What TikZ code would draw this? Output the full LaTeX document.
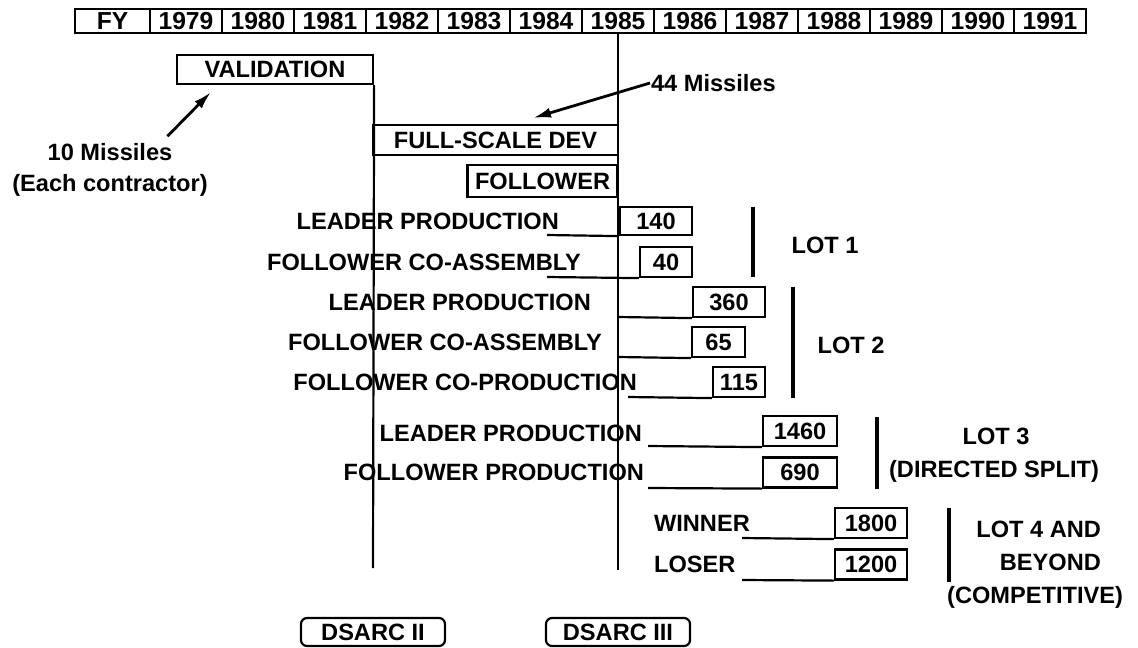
\documentclass[tikz,border=0pt]{standalone}
\usepackage{fontspec}
\setmainfont{Liberation Sans}
\usetikzlibrary{positioning,arrows.meta}

\begin{document}
\begin{tikzpicture}[x=0.5pt, y=-0.5pt, line width=1.1pt,
  font=\fontsize{11.8}{13}\selectfont\bfseries,
  yearcell/.style={draw, minimum width=36pt, minimum height=12pt, inner sep=0pt,
                   font=\fontsize{12.3}{13}\selectfont\bfseries},
  phase/.style={draw, minimum height=14.5pt, inner sep=0pt},
  qty/.style={draw, minimum height=15pt, inner sep=0pt},
  lbl/.style={anchor=east, inner sep=0pt},
  lotbar/.style={line width=1.7pt},
  review/.style={draw, rounded corners=3pt, minimum width=72pt, minimum height=14pt, inner sep=0pt},
  arr/.style={-{Latex[length=9pt,width=5pt]}, line width=1.4pt}
]
\useasboundingbox (0,0) rectangle (1138,647);

% fiscal year header
\node[yearcell, minimum width=37.5pt] (fy) at (112.5,21) {FY};
\foreach \yr [count=\i from 0] in {1979,...,1991}
  \node[yearcell] (y\yr) at (186+72*\i,21) {\yr};

% development phases
\node[phase, minimum width=98pt] (val) at (275,69.5) {VALIDATION};
\node[phase, minimum width=122.5pt, minimum height=15pt] (fsd) at (495.5,140) {FULL-SCALE DEV};
\node[phase, minimum width=75pt, minimum height=16pt] (fol) at (542.5,181) {FOLLOWER};

% milestones
\coordinate (d2end) at (373,568);
\coordinate (d3end) at (618,570);
\draw (val.south east) -- (d2end);
\draw (y1985.south) -- (d3end);
\node[review] (dsarc2) at (373,632) {DSARC II};
\node[review] (dsarc3) at (618,632) {DSARC III};

% missile notes
\node[anchor=west, inner sep=0pt] (m44) at (650,83) {44 Missiles};
\coordinate (m44tip) at (533,118);
\draw[arr] (m44.west) -- (m44tip);
\node[inner sep=0pt] (m10) at (110,152) {10 Missiles};
\node[inner sep=0pt] (each) at (110,185) {(Each contractor)};
\coordinate (m10tip) at (211,92);
\draw[arr] ([xshift=-3pt,yshift=3pt]m10.north east) -- (m10tip);

% lot 1
\node[lbl] (l1lead) at (560,221) {LEADER PRODUCTION};
\node[lbl] (l1fol) at (582,262) {FOLLOWER CO-ASSEMBLY};
\node[qty, minimum width=36pt, minimum height=14pt] (q140) at (656,221) {140};
\node[qty, minimum width=26pt] (q40) at (666,262) {40};
\coordinate (s140) at (547,235);
\coordinate (s40) at (547,277);
\draw (s140) -- (q140.south west);
\draw (s40) -- (q40.south west);
\coordinate (b1top) at (753,207);
\coordinate (b1bot) at (753,277);
\draw[lotbar] (b1top) -- (b1bot);
\node (lot1) at (825,245) {LOT 1};

% lot 2
\node[lbl] (l2lead) at (592,302) {LEADER PRODUCTION};
\node[lbl] (l2asm) at (603,342) {FOLLOWER CO-ASSEMBLY};
\node[lbl] (l2prod) at (638,382) {FOLLOWER CO-PRODUCTION};
\node[qty, minimum width=36pt] (q360) at (729,302) {360};
\node[qty, minimum width=26.5pt] (q65) at (718.5,342) {65};
\node[qty, minimum width=26pt] (q115) at (739,382) {115};
\coordinate (s360) at (618,317);
\coordinate (s65) at (618,357);
\coordinate (s115) at (628,397);
\draw (s360) -- (q360.south west);
\draw (s65) -- (q65.south west);
\draw (s115) -- (q115.south west);
\coordinate (b2top) at (793,287);
\coordinate (b2bot) at (793,398);
\draw[lotbar] (b2top) -- (b2bot);
\node (lot2) at (851,345) {LOT 2};

% lot 3
\node[lbl] (l3lead) at (643,433) {LEADER PRODUCTION};
\node[lbl] (l3fol) at (645,472) {FOLLOWER PRODUCTION};
\node[qty, minimum width=37pt] (q1460) at (800,431) {1460};
\node[qty, minimum width=37pt] (q690) at (800,472.5) {690};
\coordinate (s1460) at (648,446);
\coordinate (s690) at (648,488);
\draw (s1460) -- (q1460.south west);
\draw (s690) -- (q690.south west);
\coordinate (b3top) at (877,417);
\coordinate (b3bot) at (877,489);
\draw[lotbar] (b3top) -- (b3bot);
\node (lot3) at (996,436) {LOT 3};
\node (split) at (994,471) {(DIRECTED SPLIT)};

% lot 4
\node[anchor=west, inner sep=0pt] (win) at (653,523) {WINNER};
\node[anchor=west, inner sep=0pt] (lose) at (653,564) {LOSER};
\node[qty, minimum width=36pt] (q1800) at (871,523) {1800};
\node[qty, minimum width=36pt] (q1200) at (871,564.5) {1200};
\coordinate (s1800) at (742,538);
\coordinate (s1200) at (742,580);
\draw (s1800) -- (q1800.south west);
\draw (s1200) -- (q1200.south west);
\coordinate (b4top) at (949,508);
\coordinate (b4bot) at (949,582);
\draw[lotbar] (b4top) -- (b4bot);
\node[anchor=east, inner sep=0pt] (lot4) at (1102,529) {LOT 4 AND};
\node[anchor=east, inner sep=0pt] (beyond) at (1102,562) {BEYOND};
\node[anchor=east, inner sep=0pt] (comp) at (1124,597) {(COMPETITIVE)};
\end{tikzpicture}
\end{document}
